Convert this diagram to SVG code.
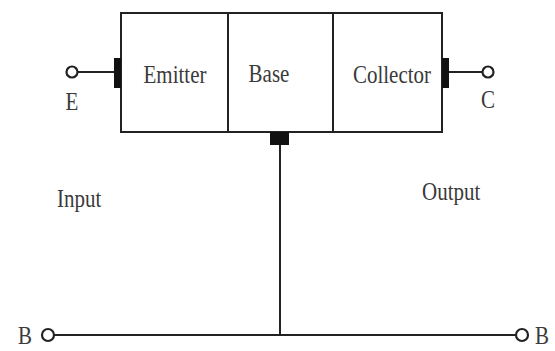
<svg xmlns="http://www.w3.org/2000/svg" width="555" height="351" viewBox="0 0 555 351">
<style>
.ln{stroke:#222;stroke-width:2;fill:none}
.tab{fill:#111}
.term{fill:#fff;stroke:#222;stroke-width:2.2}
.t{font-family:"Liberation Serif","Times New Roman",serif;font-size:21px;fill:#3a3a3a}
</style>
<rect width="555" height="351" fill="#fff"/>
<g id="emitter">
<rect class="ln" x="121" y="13" width="107" height="119"/>
<text class="t" transform="translate(175,83) scale(1,1.2)" text-anchor="middle">Emitter</text>
</g>
<g id="base">
<rect class="ln" x="228" y="13" width="105" height="119"/>
<text class="t" transform="translate(269,82) scale(1,1.2)" text-anchor="middle">Base</text>
</g>
<g id="collector">
<rect class="ln" x="333" y="13" width="109" height="119"/>
<text class="t" transform="translate(392,83) scale(1,1.2)" text-anchor="middle">Collector</text>
</g>
<g id="terminal-E">
<rect class="tab" x="114" y="58" width="7" height="30"/>
<circle class="term" cx="72" cy="72" r="5.5"/>
<text class="t" transform="translate(72,110) scale(1,1.2)" text-anchor="middle">E</text>
</g>
<g id="terminal-C">
<rect class="tab" x="442" y="58" width="7" height="30"/>
<circle class="term" cx="488" cy="72" r="5.5"/>
<text class="t" transform="translate(488,108) scale(1,1.2)" text-anchor="middle">C</text>
</g>
<g id="terminal-base">
<rect class="tab" x="270" y="132" width="19" height="13"/>
</g>
<g id="terminal-B-left">
<circle class="term" cx="48" cy="335" r="6"/>
<text class="t" transform="translate(25,344) scale(1,1.2)" text-anchor="middle">B</text>
</g>
<g id="terminal-B-right">
<circle class="term" cx="522" cy="335" r="6"/>
<text class="t" transform="translate(542,344) scale(1,1.2)" text-anchor="middle">B</text>
</g>
<g id="label-input"><text class="t" transform="translate(57,207) scale(1,1.15)">Input</text></g>
<g id="label-output"><text class="t" transform="translate(422,200) scale(1,1.15)">Output</text></g>
<g id="connectors">
<line class="ln" x1="77.5" y1="72" x2="114" y2="72"/>
<line class="ln" x1="449" y1="72" x2="482.5" y2="72"/>
<line class="ln" x1="280" y1="145" x2="280" y2="335"/>
<line class="ln" x1="54" y1="335" x2="516" y2="335"/>
</g>
</svg>
